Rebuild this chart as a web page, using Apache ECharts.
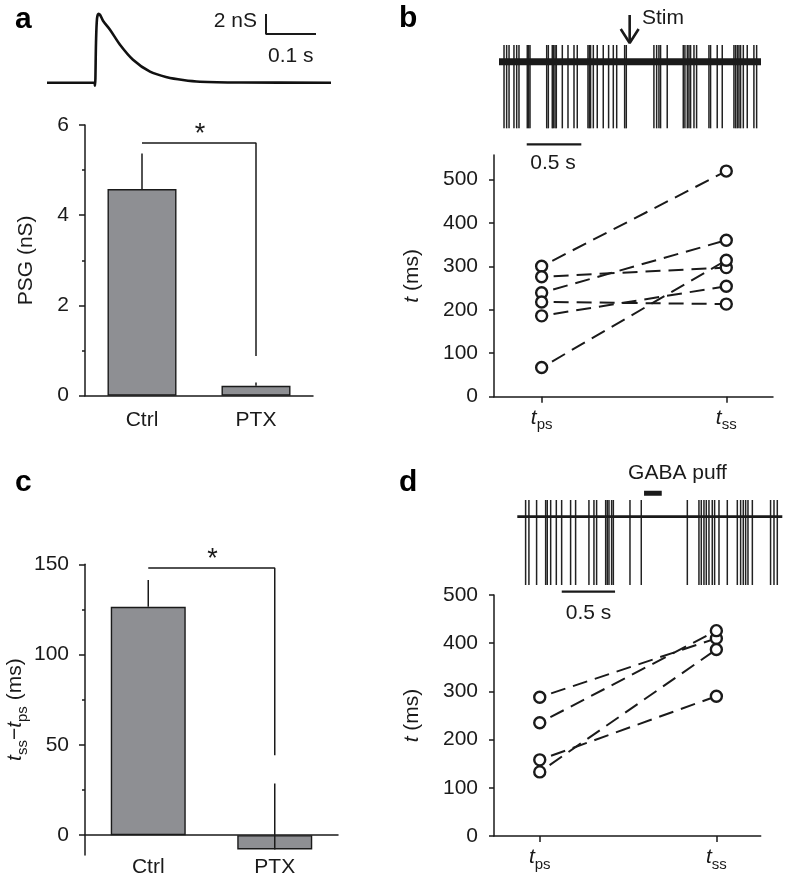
<!DOCTYPE html>
<html><head><meta charset="utf-8">
<script src="https://cdn.jsdelivr.net/npm/echarts@6/dist/echarts.min.js"></script>
<style>html,body{margin:0;padding:0;background:#fff}#c{width:788px;height:884px}</style>
</head><body><div id="c"></div>
<script>
// ---------- DATA ----------
// Panel a: conductance trace (time in ms, conductance in nS)
const traceT = [0, 94, 96, 98, 100, 103, 106, 112, 126, 146, 172, 206, 240, 272, 306, 386, 568];
const traceG = [0, 0, -0.3, 4.0, 6.4, 6.9, 6.8, 6.2, 5.3, 3.8, 2.3, 1.1, 0.55, 0.27, 0.1, 0.02, 0];
// Bar panels
const barCats = ['Ctrl', 'PTX'];
const psgMean = [4.58, 0.22];
const psgSem = [0.79, 0.07];
const psgBracket = [5.6, 0.88];        // bracket height, drop end (nS)
const shiftMean = [126.5, -7.9];
const shiftSem = [14.8, 36.5];
const shiftBracket = [148, 44.3];      // bracket height, drop end (ms)
// Panel b spike raster (s)
const bSpikes = [0.046,0.070,0.092,0.137,0.162,0.183,0.259,0.272,0.284,0.437,0.452,0.488,0.498,0.513,0.525,0.580,0.632,0.687,0.717,0.815,0.827,0.839,0.864,0.900,0.955,1.004,1.047,1.078,1.151,1.166,1.419,1.444,1.465,1.480,1.541,1.688,1.703,1.725,1.740,1.755,1.786,1.810,1.923,1.938,1.999,2.045,2.152,2.167,2.183,2.198,2.213,2.238,2.274,2.335,2.360];
const bStim = 1.197;
// Panel b paired times (ms)
const bTps = [300, 276, 239, 218, 186, 67];
const bTss = [519, 297, 360, 213, 254, 314];
// Panel d spike raster (s)
const dSpikes = [0.078,0.109,0.181,0.266,0.281,0.313,0.366,0.416,0.500,0.547,0.672,0.719,0.744,0.829,0.844,0.860,0.885,0.901,1.057,1.163,1.595,1.704,1.726,1.751,1.773,1.798,1.829,1.851,1.892,1.970,2.064,2.095,2.120,2.142,2.164,2.205,2.376,2.408,2.439];
const dPuff = [1.189, 1.355];
// Panel d paired times (ms)
const dTps = [288, 235, 158, 133];
const dTss = [410, 426, 290, 387];
// Tick values
const aTicks = [0, 2, 4, 6];
const bTicks = [0, 100, 200, 300, 400, 500];
const cTicks = [0, 50, 100, 150];
const cMinor = [25, 75, 125];
const pairPos = [0, 1];
const pairLabels = ['ps', 'ss'];

// ---------- STYLE ----------
const FONT = '"Liberation Sans", Arial, Helvetica, sans-serif';
const INK = '#1a1a1a';
const BAR = '#8e8f93';
const axLine = {show: true, onZero: false, lineStyle: {color: INK, width: 1.5}};
const tickStyle = {lineStyle: {color: INK, width: 1.5}};
const lbl = {color: INK, fontSize: 21, fontFamily: FONT};
const subRich = {
  i: {fontStyle: 'italic', fontSize: 21, fontFamily: FONT, color: INK, lineHeight: 30},
  s: {fontSize: 15, fontFamily: FONT, color: INK, lineHeight: 15, verticalAlign: 'bottom'},
  n: {fontSize: 21, fontFamily: FONT, color: INK, lineHeight: 30}
};

const chart = echarts.init(document.getElementById('c'), null, {renderer: 'canvas'});

function errSeries(xi, yi, means, sems) {
  return {
    type: 'custom', xAxisIndex: xi, yAxisIndex: yi, z: 5,
    data: means.map((m, i) => [i, m, m + sems[i]]),
    encode: {x: 0, y: [1, 2]},
    renderItem: (p, api) => {
      const a = api.coord([api.value(0), api.value(1)]);
      const b = api.coord([api.value(0), api.value(2)]);
      return {type: 'line', shape: {x1: a[0], y1: a[1], x2: b[0], y2: b[1]}, style: {stroke: INK, lineWidth: 1.5}};
    }
  };
}
function spikeSeries(xi, yi, times, top, bottom) {
  return {
    type: 'custom', xAxisIndex: xi, yAxisIndex: yi, z: 3,
    data: times.map(t => [t, 0]),
    encode: {x: 0, y: 1},
    renderItem: (p, api) => {
      const a = api.coord([api.value(0), top]);
      const b = api.coord([api.value(0), bottom]);
      return {type: 'line', shape: {x1: a[0], y1: a[1], x2: b[0], y2: b[1]}, style: {stroke: '#222', lineWidth: 1.5}};
    }
  };
}
function seg(xi, yi, pts, w, z) {
  return {type: 'line', xAxisIndex: xi, yAxisIndex: yi, data: pts, showSymbol: false, symbol: 'none',
    lineStyle: {color: INK, width: w}, z: z || 4, silent: true, animation: false};
}
function pairSeries(xi, yi, ps, ss) {
  const out = ps.map((v, i) => ({
    type: 'line', xAxisIndex: xi, yAxisIndex: yi, data: [[0, v], [1, ss[i]]],
    showSymbol: false, symbol: 'none', z: 2,
    lineStyle: {color: INK, width: 2, type: [15, 8], dashOffset: 11}
  }));
  const pts = [];
  ps.forEach((v, i) => { pts.push([0, v]); pts.push([1, ss[i]]); });
  out.push({type: 'scatter', xAxisIndex: xi, yAxisIndex: yi, data: pts, z: 6, symbol: 'circle', symbolSize: 11,
    itemStyle: {color: '#fff', borderColor: INK, borderWidth: 2.4, opacity: 1}});
  return out;
}
const pairFmt = v => '{i|t}{s|' + pairLabels[pairPos.indexOf(v)] + '}';

const hidden = {show: false};
const gridBase = {outerBoundsMode: 'none', containLabel: false};
const italicName = {rich: {i: {fontStyle: 'italic', fontSize: 21, fontFamily: FONT, color: INK}}, fontSize: 21, color: INK, fontFamily: FONT};

const option = {
  animation: false,
  backgroundColor: '#fff',
  textStyle: {fontFamily: FONT},
  grid: [
    Object.assign({left: 47, top: 12.7, width: 284, height: 75}, gridBase),
    Object.assign({left: 85, top: 125, width: 228, height: 270.7}, gridBase),
    Object.assign({left: 499, top: 10, width: 262, height: 135}, gridBase),
    Object.assign({left: 494, top: 155, width: 279, height: 241.7}, gridBase),
    Object.assign({left: 85, top: 564.3, width: 253, height: 290.7}, gridBase),
    Object.assign({left: 517.3, top: 483.3, width: 265, height: 116.7}, gridBase),
    Object.assign({left: 494, top: 595, width: 266.7, height: 241}, gridBase)
  ],
  xAxis: [
    {gridIndex: 0, type: 'value', min: 0, max: 568, show: false},
    {gridIndex: 1, type: 'category', data: barCats, axisLine: axLine,
      axisTick: Object.assign({alignWithLabel: true, length: 6}, tickStyle),
      axisLabel: Object.assign({margin: 14}, lbl)},
    {gridIndex: 2, type: 'value', min: 0, max: 2.4, show: false},
    {gridIndex: 3, type: 'value', min: -0.258, max: 1.253, axisLine: axLine, splitLine: hidden,
      axisTick: Object.assign({customValues: pairPos, length: 6}, tickStyle),
      axisLabel: {customValues: pairPos, formatter: pairFmt, rich: subRich, margin: 6}},
    {gridIndex: 4, type: 'category', data: barCats, axisLine: Object.assign({}, axLine, {onZero: true}),
      axisTick: Object.assign({alignWithLabel: true, length: 6}, tickStyle),
      axisLabel: Object.assign({margin: 2}, lbl)},
    {gridIndex: 5, type: 'value', min: 0, max: 2.486, show: false},
    {gridIndex: 6, type: 'value', min: -0.259, max: 1.251, axisLine: axLine, splitLine: hidden,
      axisTick: Object.assign({customValues: pairPos, length: 6}, tickStyle),
      axisLabel: {customValues: pairPos, formatter: pairFmt, rich: subRich, margin: 6}}
  ],
  yAxis: [
    {gridIndex: 0, type: 'value', min: -0.5, max: 7, show: false},
    {gridIndex: 1, type: 'value', min: 0, max: 6, interval: 2, axisLine: axLine, splitLine: hidden,
      axisTick: Object.assign({show: true, length: 6}, tickStyle),
      minorTick: {show: true, splitNumber: 2, length: 3, lineStyle: {color: INK, width: 1.5}},
      axisLabel: Object.assign({margin: 16}, lbl),
      name: 'PSG (nS)', nameLocation: 'middle', nameRotate: 90, nameGap: 48,
      nameTextStyle: lbl},
    {gridIndex: 2, type: 'value', min: -5, max: 3.1, show: false},
    {gridIndex: 3, type: 'value', min: 0, max: 556, axisLine: axLine, splitLine: hidden,
      axisTick: Object.assign({show: true, customValues: bTicks, length: 5}, tickStyle),
      axisLabel: Object.assign({customValues: bTicks, margin: 16}, lbl),
      name: '{i|t} (ms)', nameLocation: 'middle', nameRotate: 90, nameGap: 71,
      nameTextStyle: italicName},
    {gridIndex: 4, type: 'value', min: -11, max: 150, axisLine: axLine, splitLine: hidden, position: 'left',
      axisTick: Object.assign({show: true, customValues: cTicks, length: 6}, tickStyle),
      axisLabel: Object.assign({customValues: cTicks, margin: 16}, lbl),
      name: '{i|t}{s|ss}−{i|t}{s|ps}{n| (ms)}', nameLocation: 'middle', nameRotate: 90, nameGap: 46,
      nameTextStyle: {rich: subRich, fontSize: 21, color: INK, fontFamily: FONT}},
    {gridIndex: 5, type: 'value', min: -5, max: 2, show: false},
    {gridIndex: 6, type: 'value', min: 0, max: 500, interval: 100, axisLine: axLine, splitLine: hidden,
      axisTick: Object.assign({show: true, length: 5}, tickStyle),
      axisLabel: Object.assign({margin: 16}, lbl),
      name: '{i|t} (ms)', nameLocation: 'middle', nameRotate: 90, nameGap: 71,
      nameTextStyle: italicName},
    {gridIndex: 4, type: 'value', min: -11, max: 150, position: 'left', offset: 0, axisLine: {show: false}, splitLine: hidden,
      axisTick: Object.assign({show: true, customValues: cMinor, length: 3}, tickStyle),
      axisLabel: {show: false}}
  ],
  series: [
    // a: trace + scale bar
    {type: 'line', xAxisIndex: 0, yAxisIndex: 0, data: traceT.map((t, i) => [t, traceG[i]]), showSymbol: false, symbol: 'none',
      smooth: 0.3, lineStyle: {color: '#111', width: 2.6}},
    seg(0, 0, [[438, 6.87], [438, 4.87], [538, 4.87]], 2),
    // a: bars
    {type: 'bar', xAxisIndex: 1, yAxisIndex: 1, data: psgMean, barWidth: 69,
      itemStyle: {color: BAR, borderColor: INK, borderWidth: 1.4}},
    errSeries(1, 1, psgMean, psgSem),
    seg(1, 1, [[0, psgBracket[0]], [1, psgBracket[0]], [1, psgBracket[1]]], 1.5),
    // b: raster
    spikeSeries(2, 2, bSpikes, 1, -4),
    seg(2, 2, [[0, 0], [2.4, 0]], 7, 4),
    seg(2, 2, [[bStim, 2.8], [bStim, 1.12]], 2.6),
    seg(2, 2, [[bStim - 0.082, 1.96], [bStim, 1.12], [bStim + 0.082, 1.96]], 2.6),
    seg(2, 2, [[0.254, -4.96], [0.754, -4.96]], 2.2),
    // b: pairs
    ...pairSeries(3, 3, bTps, bTss),
    // c: bars
    {type: 'bar', xAxisIndex: 4, yAxisIndex: 4, data: shiftMean, barWidth: 75,
      itemStyle: {color: BAR, borderColor: INK, borderWidth: 1.4}},
    errSeries(4, 4, shiftMean, shiftSem),
    seg(4, 4, [[0, shiftBracket[0]], [1, shiftBracket[0]], [1, shiftBracket[1]]], 1.5),
    // d: raster
    spikeSeries(5, 5, dSpikes, 1, -4.1),
    seg(5, 5, [[0, 0], [2.486, 0]], 2.6, 4),
    seg(5, 5, [[dPuff[0], 1.4], [dPuff[1], 1.4]], 5),
    seg(5, 5, [[0.417, -4.5], [0.917, -4.5]], 2.2),
    // d: pairs
    ...pairSeries(6, 6, dTps, dTss)
  ],
  graphic: [
    {type: 'text', x: 15, y: 19.4, style: {text: 'a', font: 'bold 30px ' + FONT, fill: '#000', textVerticalAlign: 'middle'}},
    {type: 'text', x: 399, y: 18.4, style: {text: 'b', font: 'bold 30px ' + FONT, fill: '#000', textVerticalAlign: 'middle'}},
    {type: 'text', x: 15, y: 482.4, style: {text: 'c', font: 'bold 30px ' + FONT, fill: '#000', textVerticalAlign: 'middle'}},
    {type: 'text', x: 399, y: 482.4, style: {text: 'd', font: 'bold 30px ' + FONT, fill: '#000', textVerticalAlign: 'middle'}},
    {type: 'text', x: 257, y: 21, style: {text: '2 nS', font: '21px ' + FONT, fill: INK, textAlign: 'right', textVerticalAlign: 'middle'}},
    {type: 'text', x: 268, y: 56, style: {text: '0.1 s', font: '21px ' + FONT, fill: INK, textAlign: 'left', textVerticalAlign: 'middle'}},
    {type: 'text', x: 642, y: 18, style: {text: 'Stim', font: '21px ' + FONT, fill: INK, textAlign: 'left', textVerticalAlign: 'middle'}},
    {type: 'text', x: 553, y: 163, style: {text: '0.5 s', font: '21px ' + FONT, fill: INK, textAlign: 'center', textVerticalAlign: 'middle'}},
    {type: 'text', x: 588.5, y: 613, style: {text: '0.5 s', font: '21px ' + FONT, fill: INK, textAlign: 'center', textVerticalAlign: 'middle'}},
    {type: 'text', x: 677.5, y: 473, style: {text: 'GABA puff', font: '21px ' + FONT, fill: INK, textAlign: 'center', textVerticalAlign: 'middle'}},
    {type: 'text', x: 200, y: 135, style: {text: '*', font: '27px ' + FONT, fill: INK, textAlign: 'center', textVerticalAlign: 'middle'}},
    {type: 'text', x: 212.5, y: 560, style: {text: '*', font: '27px ' + FONT, fill: INK, textAlign: 'center', textVerticalAlign: 'middle'}}
  ]
};
chart.setOption(option);
</script>
</body></html>
